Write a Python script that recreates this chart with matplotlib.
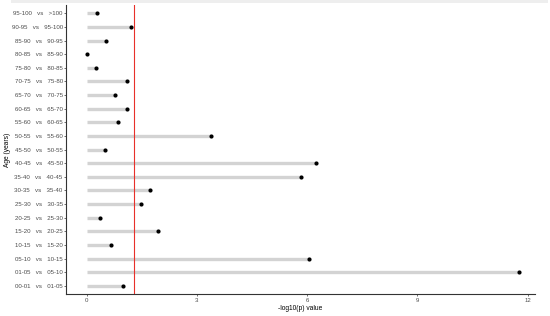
import matplotlib
matplotlib.use("Agg")
import matplotlib.pyplot as plt
from matplotlib.patches import Rectangle

plt.rcParams['font.family'] = ['Liberation Sans', 'DejaVu Sans']

categories = ["00-01   vs   01-05", "01-05   vs   05-10", "05-10   vs   10-15", "10-15   vs   15-20",
              "15-20   vs   20-25", "20-25   vs   25-30", "25-30   vs   30-35", "30-35   vs   35-40",
              "35-40   vs   40-45", "40-45   vs   45-50", "45-50   vs   50-55", "50-55   vs   55-60",
              "55-60   vs   60-65", "60-65   vs   65-70", "65-70   vs   70-75", "70-75   vs   75-80",
              "75-80   vs   80-85", "80-85   vs   85-90", "85-90   vs   90-95", "90-95   vs   95-100",
              "95-100   vs   >100"]
values = [0.99, 11.77, 6.04, 0.66, 1.95, 0.36, 1.49, 1.73, 5.83, 6.24, 0.50, 3.39,
          0.84, 1.09, 0.77, 1.09, 0.25, 0.01, 0.53, 1.20, 0.28]
xticks = [0, 3, 6, 9, 12]
threshold = 1.301  # -log10(0.05)

fig = plt.figure(figsize=(5.5, 3.16), dpi=100)
ax = fig.add_axes([0.1195, 0.0696, 0.853, 0.914])

ys = list(range(len(categories)))
ax.hlines(ys, 0, values, color="#d3d3d3", linewidth=2.4, zorder=1)
ax.scatter(values, ys, s=9, color="black", zorder=3, linewidths=0)
ax.axvline(threshold, color="#e8302a", linewidth=0.8, zorder=2)

ax.set_yticks(ys)
ax.set_yticklabels(categories)
ax.set_xticks(xticks)
ax.set_xticklabels([str(t) for t in xticks])
ax.set_ylim(-0.6, len(categories) - 1 + 0.6)
ax.set_xlim(-0.57, 12.2)

for s in ["top", "right"]:
    ax.spines[s].set_visible(False)
for s in ["left", "bottom"]:
    ax.spines[s].set_linewidth(0.8)
    ax.spines[s].set_color("#333333")
ax.tick_params(axis="both", labelsize=4.4, colors="#333333", length=1.6, width=0.5)
ax.tick_params(axis="y", pad=0.6)
ax.tick_params(axis="x", pad=1.2)
for lab in ax.get_xticklabels() + ax.get_yticklabels():
    lab.set_color("#4d4d4d")

ax.set_xlabel("-log10(p) value", fontsize=4.75, labelpad=1.5)
ax.set_ylabel("Age (years)", fontsize=4.75)
ax.yaxis.set_label_coords(-0.117, 0.5)

fig.patches.append(Rectangle((0.02, 0.99), 0.976, 0.01, transform=fig.transFigure,
                             facecolor="#eeeeee", edgecolor="none"))

fig.savefig("out.png", dpi=100)
